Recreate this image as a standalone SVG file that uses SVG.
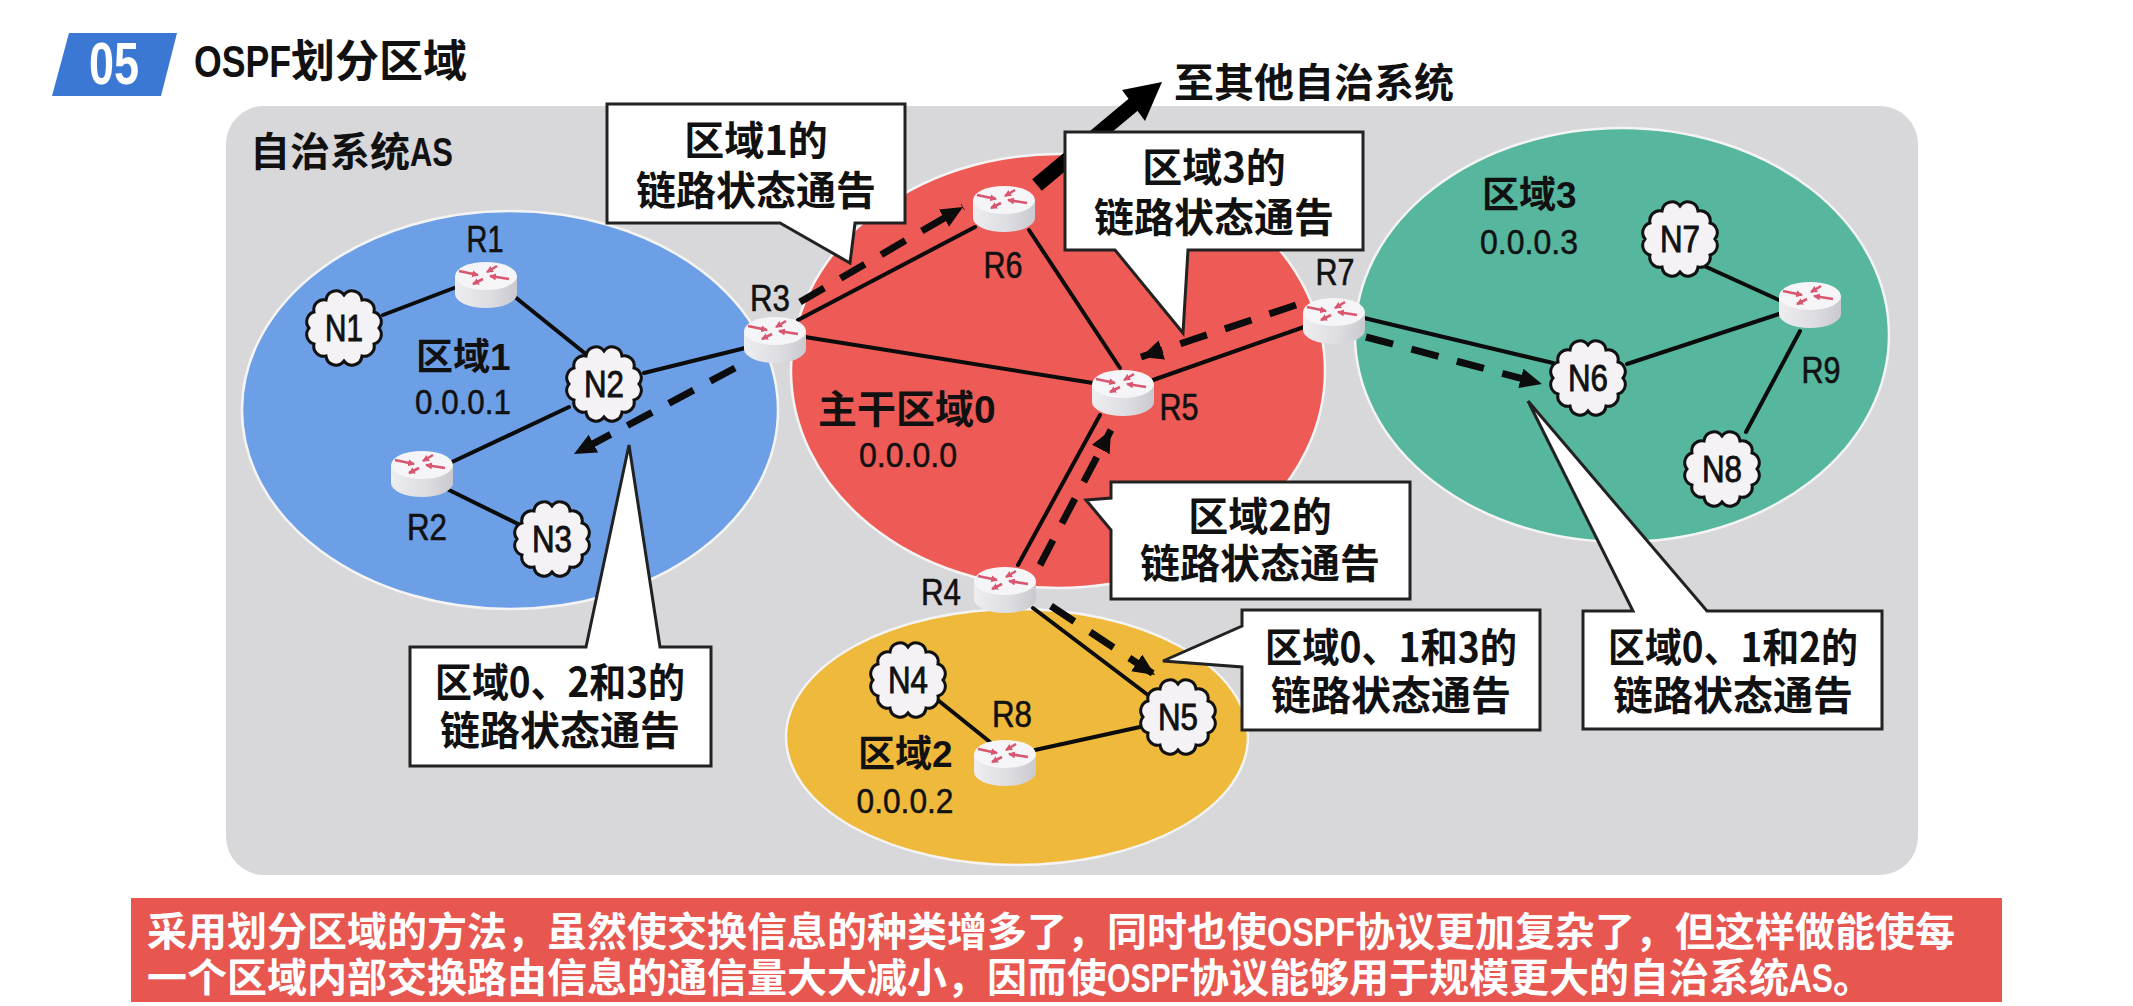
<svg xmlns="http://www.w3.org/2000/svg" width="2133" height="1006" viewBox="0 0 2133 1006">
<style>
text{font-family:"Liberation Sans","Noto Sans CJK SC",sans-serif;fill:#111}
.cjk{font-family:"Noto Sans CJK SC","Liberation Sans",sans-serif;font-weight:700}
.lat{font-family:"Liberation Sans","Noto Sans CJK SC",sans-serif;font-weight:700}
.c{text-anchor:middle}
.call{font-size:40px}
.rl{font-size:36px;text-anchor:middle;stroke:#111;stroke-width:.6px}
.nl{font-size:37px;text-anchor:middle;stroke:#111;stroke-width:.9px}
.ip{font-size:35px;text-anchor:middle;stroke:#111;stroke-width:.5px}
.area{stroke:#f4f4f4;stroke-width:2.5}
.ln{stroke:#0c0c0c;stroke-width:4;fill:none;stroke-linecap:round}
.da{stroke:#0c0c0c;stroke-width:7;fill:none;stroke-dasharray:28 19;marker-end:url(#ah)}
.box{fill:#fff;stroke:#222;stroke-width:3;stroke-linejoin:miter}
.ban{font-size:40px;fill:#fff}
.ra{stroke:#d8566f;stroke-width:2.6;fill:none;marker-end:url(#rh)}
</style>
<defs>
<marker id="ah" markerUnits="userSpaceOnUse" markerWidth="26" markerHeight="24" refX="22" refY="10" orient="auto"><path d="M0,0L22,10L0,20Z" fill="#0c0c0c"/></marker>
<marker id="rh" markerUnits="userSpaceOnUse" markerWidth="8" markerHeight="8" refX="6" refY="3.5" orient="auto"><path d="M0,0L7,3.5L0,7Z" fill="#d8566f"/></marker>
<linearGradient id="rb" x1="0" x2="1" y1="0" y2="0"><stop offset="0" stop-color="#eeeef1"/><stop offset=".55" stop-color="#dddde2"/><stop offset="1" stop-color="#c9c9cf"/></linearGradient>
<g id="router">
<path d="M-31,0V18A31,14 0 0 0 31,18V0Z" fill="url(#rb)"/>
<ellipse rx="31" ry="14" fill="#f5f5f7"/>
<path class="ra" d="M-27,-5L-8,-1"/><path class="ra" d="M11,-10L1,-4"/><path class="ra" d="M23,3L4,0"/><path class="ra" d="M-3,3L-13,8"/>
</g>
<path id="cloud" d="M35,0A10,10 0 0 1 30,16A10,10 0 0 1 18,28A10,10 0 0 1 0,33A10,10 0 0 1 -18,28A10,10 0 0 1 -30,16A10,10 0 0 1 -35,0A10,10 0 0 1 -30,-16A10,10 0 0 1 -18,-28A10,10 0 0 1 0,-33A10,10 0 0 1 18,-28A10,10 0 0 1 30,-16A10,10 0 0 1 35,0Z" fill="#f4f2f5" stroke="#111" stroke-width="3"/>
</defs>
<rect width="2133" height="1006" fill="#fff"/>
<g id="header">
<path d="M69,33H177L161,96H52Z" fill="#3b78d4"/>
<text class="lat" x="114" y="84" font-size="60" text-anchor="middle" textLength="50" lengthAdjust="spacingAndGlyphs" style="fill:#fff">05</text>
<text x="194" y="77" font-size="44" class="cjk"><tspan class="lat" textLength="97" lengthAdjust="spacingAndGlyphs">OSPF</tspan>划分区域</text>
</g>
<rect id="as" x="226" y="106" width="1692" height="769" rx="38" fill="#d8d7da"/>
<text class="cjk" x="250" y="166" font-size="40">自治系统<tspan class="lat" textLength="43" lengthAdjust="spacingAndGlyphs">AS</tspan></text>
<g id="areas">
<ellipse id="area1" class="area" cx="510" cy="410" rx="268" ry="199" fill="#6c9fe6"/>
<ellipse id="area0" class="area" cx="1058" cy="371" rx="267" ry="217" fill="#ee5a55"/>
<ellipse id="area3" class="area" cx="1622" cy="335" rx="267" ry="207" fill="#56b69e"/>
<ellipse id="area2" class="area" cx="1017" cy="737" rx="231" ry="128" fill="#efb93c"/>
<text class="cjk" x="416" y="370" font-size="37">区域<tspan class="lat">1</tspan></text>
<text class="ip" x="463" y="414" textLength="96" lengthAdjust="spacingAndGlyphs">0.0.0.1</text>
<text class="cjk" x="818" y="423" font-size="39">主干区域<tspan class="lat">0</tspan></text>
<text class="ip" x="908" y="467" textLength="98" lengthAdjust="spacingAndGlyphs">0.0.0.0</text>
<text class="cjk" x="1482" y="208" font-size="37">区域<tspan class="lat">3</tspan></text>
<text class="ip" x="1529" y="254" textLength="98" lengthAdjust="spacingAndGlyphs">0.0.0.3</text>
<text class="cjk" x="858" y="767" font-size="37">区域<tspan class="lat">2</tspan></text>
<text class="ip" x="905" y="813" textLength="97" lengthAdjust="spacingAndGlyphs">0.0.0.2</text>
</g>
<g id="connectors">
<path class="ln" d="M383,315L454,288M515,297L587,355M644,373L745,348M569,407L452,462M449,490L520,525M798,320L975,227M805,337L1093,383M1029,230L1120,368M1153,380L1304,327M1100,415L1018,565M1364,318L1553,363M1627,364L1779,314M1702,265L1779,300M1800,331L1746,432M1033,608L1148,695M939,701L990,742M1035,750L1140,727"/>
<path class="da" d="M800,302L963,207"/>
<path class="da" d="M1296,305L1141,357"/>
<path class="da" d="M1040,565L1111,430"/>
<path class="da" d="M1051,606L1155,675"/>
<path class="da" d="M1366,337L1542,384"/>
<path class="da" d="M735,368L574,454"/>
<path d="M1037,185L1140,99" stroke="#000" stroke-width="15" fill="none"/>
<path d="M1162,82L1122,90L1145,121Z" fill="#000"/>
</g>
<text class="cjk" x="1174" y="97" font-size="40">至其他自治系统</text>
<g id="R1"><use href="#router" x="486" y="276"/><text class="rl" x="485" y="252" textLength="37" lengthAdjust="spacingAndGlyphs">R1</text></g>
<g id="R2"><use href="#router" x="422" y="465"/><text class="rl" x="427" y="540" textLength="40" lengthAdjust="spacingAndGlyphs">R2</text></g>
<g id="R3"><use href="#router" x="775" y="331"/><text class="rl" x="770" y="311" textLength="40" lengthAdjust="spacingAndGlyphs">R3</text></g>
<g id="R4"><use href="#router" x="1005" y="581"/><text class="rl" x="941" y="605" textLength="40" lengthAdjust="spacingAndGlyphs">R4</text></g>
<g id="R5"><use href="#router" x="1123" y="384"/><text class="rl" x="1179" y="420" textLength="39" lengthAdjust="spacingAndGlyphs">R5</text></g>
<g id="R6"><use href="#router" x="1004" y="200"/><text class="rl" x="1003" y="278" textLength="39" lengthAdjust="spacingAndGlyphs">R6</text></g>
<g id="R7"><use href="#router" x="1334" y="312"/><text class="rl" x="1335" y="285" textLength="39" lengthAdjust="spacingAndGlyphs">R7</text></g>
<g id="R8"><use href="#router" x="1005" y="754"/><text class="rl" x="1012" y="727" textLength="40" lengthAdjust="spacingAndGlyphs">R8</text></g>
<g id="R9"><use href="#router" x="1810" y="296"/><text class="rl" x="1821" y="383" textLength="39" lengthAdjust="spacingAndGlyphs">R9</text></g>
<g id="N1"><use href="#cloud" x="344" y="328"/><text class="nl" x="344" y="341" textLength="38" lengthAdjust="spacingAndGlyphs">N1</text></g>
<g id="N2"><use href="#cloud" x="604" y="384"/><text class="nl" x="604" y="397" textLength="40" lengthAdjust="spacingAndGlyphs">N2</text></g>
<g id="N3"><use href="#cloud" x="552" y="539"/><text class="nl" x="552" y="552" textLength="40" lengthAdjust="spacingAndGlyphs">N3</text></g>
<g id="N4"><use href="#cloud" x="908" y="680"/><text class="nl" x="908" y="693" textLength="40" lengthAdjust="spacingAndGlyphs">N4</text></g>
<g id="N5"><use href="#cloud" x="1178" y="717"/><text class="nl" x="1178" y="730" textLength="40" lengthAdjust="spacingAndGlyphs">N5</text></g>
<g id="N6"><use href="#cloud" x="1588" y="378"/><text class="nl" x="1588" y="391" textLength="40" lengthAdjust="spacingAndGlyphs">N6</text></g>
<g id="N7"><use href="#cloud" x="1680" y="239"/><text class="nl" x="1680" y="252" textLength="40" lengthAdjust="spacingAndGlyphs">N7</text></g>
<g id="N8"><use href="#cloud" x="1722" y="469"/><text class="nl" x="1722" y="482" textLength="40" lengthAdjust="spacingAndGlyphs">N8</text></g>
<g id="callout-a1"><path class="box" d="M607,104H905V223H855L850,263L780,223H607Z"/>
<text class="cjk call c" x="756" y="155">区域1的</text><text class="cjk call c" x="756" y="205">链路状态通告</text></g>
<g id="callout-a3"><path class="box" d="M1065,132H1363V250H1188L1183,333L1115,250H1065Z"/>
<text class="cjk call c" x="1214" y="182">区域3的</text><text class="cjk call c" x="1214" y="232">链路状态通告</text></g>
<g id="callout-a2"><path class="box" d="M1111,482H1410V599H1111V530L1086,500L1111,498Z"/>
<text class="cjk call c" x="1260" y="531">区域2的</text><text class="cjk call c" x="1260" y="578">链路状态通告</text></g>
<g id="callout-a013"><path class="box" d="M1242,610H1540V730H1242V667L1163,661L1242,626Z"/>
<text class="cjk call c" x="1391" y="662" textLength="252" lengthAdjust="spacingAndGlyphs">区域0、1和3的</text><text class="cjk call c" x="1391" y="710">链路状态通告</text></g>
<g id="callout-a012"><path class="box" d="M1583,611H1633L1528,401L1707,611H1882V729H1583Z"/>
<text class="cjk call c" x="1733" y="662" textLength="250" lengthAdjust="spacingAndGlyphs">区域0、1和2的</text><text class="cjk call c" x="1733" y="710">链路状态通告</text></g>
<g id="callout-a023"><path class="box" d="M410,647H586L629,445L660,647H711V766H410Z"/>
<text class="cjk call c" x="560" y="697" textLength="250" lengthAdjust="spacingAndGlyphs">区域0、2和3的</text><text class="cjk call c" x="560" y="745">链路状态通告</text></g>
<g id="banner">
<rect x="131" y="898" width="1871" height="104" fill="#e85650"/>
<text class="cjk ban" x="147" y="946">采用划分区域的方法，虽然使交换信息的种类增多了，同时也使<tspan class="lat" style="fill:#fff" textLength="88" lengthAdjust="spacingAndGlyphs">OSPF</tspan>协议更加复杂了，但这样做能使每</text>
<text class="cjk ban" x="147" y="992">一个区域内部交换路由信息的通信量大大减小，因而使<tspan class="lat" style="fill:#fff" textLength="82" lengthAdjust="spacingAndGlyphs">OSPF</tspan>协议能够用于规模更大的自治系统<tspan class="lat" style="fill:#fff" textLength="44" lengthAdjust="spacingAndGlyphs">AS</tspan>。</text>
</g>
</svg>
